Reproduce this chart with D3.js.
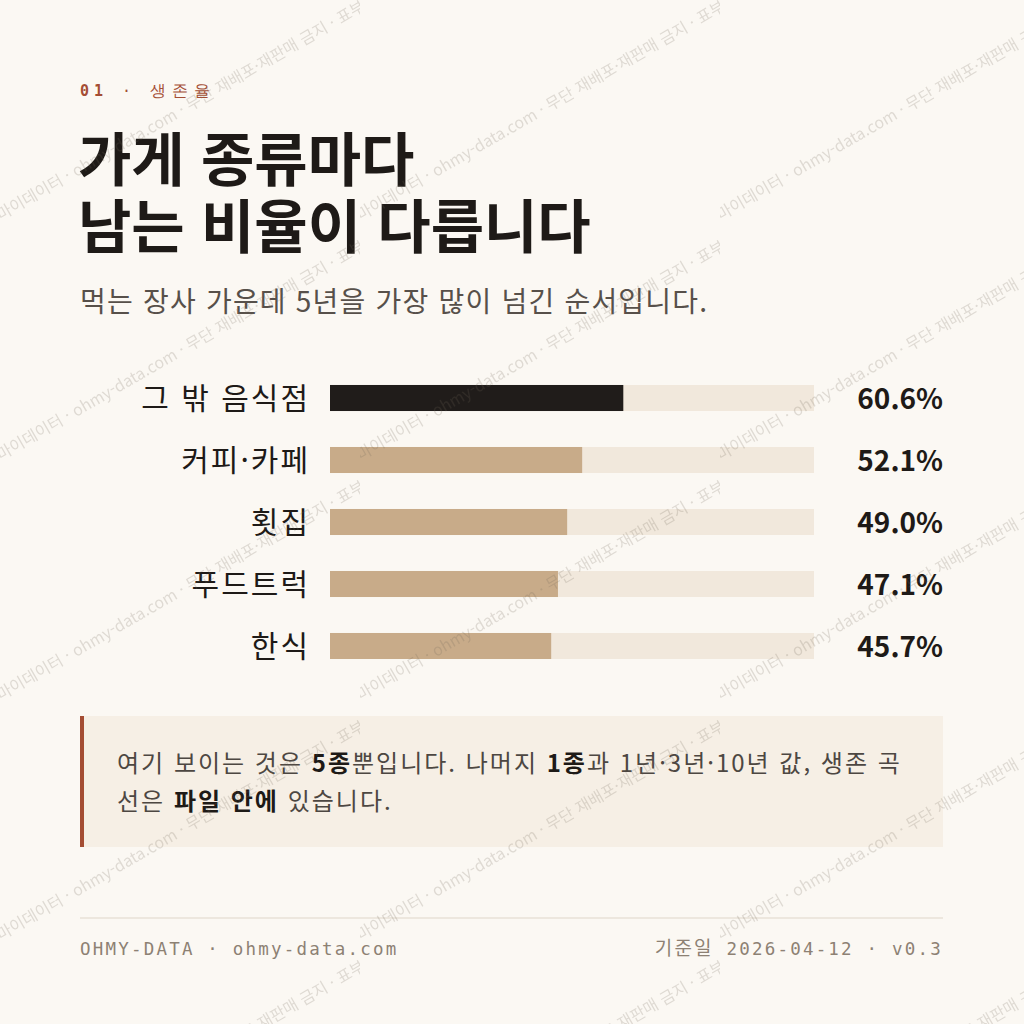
<!DOCTYPE html>
<html lang="ko">
<head>
<meta charset="utf-8">
<script src="https://cdn.jsdelivr.net/npm/d3@7"></script>
<style>
  body { margin: 0; background: #fbf8f3; }
  svg { display: block; }
</style>
</head>
<body>
<script>
const categories = ["그 밖 음식점", "커피·카페", "횟집", "푸드트럭", "한식"];
const survival5y = [60.6, 52.1, 49.0, 47.1, 45.7];
const highlight = "그 밖 음식점";

const kicker = ["01", " · ", "생존율"];
const titleLines = ["가게 종류마다", "남는 비율이 다릅니다"];
const subtitle = "먹는 장사 가운데 5년을 가장 많이 넘긴 순서입니다.";
const noteLines = [
  [["여기 보이는 것은 ", false], ["5종", true], ["뿐입니다. 나머지 ", false], ["1종", true], ["과 1년·3년·10년 값, 생존 곡", false]],
  [["선은 ", false], ["파일 안에", true], [" 있습니다.", false]]
];
const footerLeft = "OHMY-DATA · ohmy-data.com";
const footerRight = ["기준일", " 2026-04-12 · v0.3"];
const watermark = "오마이데이터 · ohmy-data.com · 무단 재배포·재판매 금지 · 표부";

const W = 1024, H = 1024;
const sans = "'Noto Sans CJK KR', 'Noto Sans', sans-serif";
const mono = "'DejaVu Sans Mono', 'Liberation Mono', monospace";

const svg = d3.select("body").append("svg")
  .attr("width", W)
  .attr("height", H);

svg.append("rect").attr("width", W).attr("height", H).attr("fill", "#fbf8f3");

// header
const k = svg.append("text")
  .attr("x", 80).attr("y", 96)
  .attr("font-family", mono)
  .attr("font-size", 15)
  .attr("letter-spacing", 5)
  .attr("fill", "#a44d33");
k.append("tspan").attr("font-weight", 700).text(kicker[0]);
k.append("tspan").text(kicker[1]);
k.append("tspan").attr("font-size", 16).attr("letter-spacing", 6).text(kicker[2]);

svg.selectAll("text.title")
  .data(titleLines)
  .join("text")
  .attr("class", "title")
  .attr("x", 78)
  .attr("y", (d, i) => 181 + i * 67)
  .attr("font-family", sans)
  .attr("font-weight", 700)
  .attr("font-size", 58)
  .attr("fill", "#1e1a17")
  .text(d => d);

svg.append("text")
  .attr("x", 80).attr("y", 312)
  .attr("font-family", sans)
  .attr("font-size", 28)
  .attr("letter-spacing", 1.2)
  .attr("fill", "#57504a")
  .text(subtitle);

// bars
const x = d3.scaleLinear().domain([0, 100]).range([330, 814]);
const y = d3.scaleBand()
  .domain(categories)
  .range([367, 677])
  .paddingInner(0.58)
  .paddingOuter(0.29);

const rows = svg.append("g").selectAll("g")
  .data(categories.map((c, i) => ({ cat: c, v: survival5y[i] })))
  .join("g");

rows.append("rect")
  .attr("x", x(0))
  .attr("y", d => y(d.cat))
  .attr("width", x(100) - x(0))
  .attr("height", y.bandwidth())
  .attr("fill", "#f1e8dc");

rows.append("rect")
  .attr("x", x(0))
  .attr("y", d => y(d.cat))
  .attr("width", d => x(d.v) - x(0))
  .attr("height", y.bandwidth())
  .attr("fill", d => d.cat === highlight ? "#201c1a" : "#c8ab89");

rows.append("text")
  .attr("x", 310)
  .attr("y", d => y(d.cat) + y.bandwidth() / 2)
  .attr("dy", "0.38em")
  .attr("text-anchor", "end")
  .attr("font-family", sans)
  .attr("font-size", 30)
  .attr("letter-spacing", 2)
  .attr("fill", "#1e1a17")
  .text(d => d.cat);

rows.append("text")
  .attr("x", 943)
  .attr("y", d => y(d.cat) + y.bandwidth() / 2)
  .attr("dy", "0.38em")
  .attr("text-anchor", "end")
  .attr("font-family", sans)
  .attr("font-weight", 700)
  .attr("font-size", 28)
  .attr("fill", "#1e1a17")
  .text(d => d.v.toFixed(1) + "%");

// note box
svg.append("rect")
  .attr("x", 80).attr("y", 716)
  .attr("width", 863).attr("height", 131)
  .attr("fill", "#f6efe5");
svg.append("rect")
  .attr("x", 80).attr("y", 716)
  .attr("width", 4).attr("height", 131)
  .attr("fill", "#a44d33");

noteLines.forEach((line, i) => {
  const t = svg.append("text")
    .attr("x", 117)
    .attr("y", 772 + i * 38)
    .attr("font-family", sans)
    .attr("font-size", 24)
    .attr("letter-spacing", 2)
    .attr("fill", "#4d4742");
  line.forEach(([s, b]) => {
    t.append("tspan")
      .attr("font-weight", b ? 700 : 400)
      .attr("fill", b ? "#1e1a17" : null)
      .text(s);
  });
});

// footer
svg.append("line")
  .attr("x1", 80).attr("x2", 943)
  .attr("y1", 918).attr("y2", 918)
  .attr("stroke", "#e9e2d7")
  .attr("stroke-width", 1.5);

svg.append("text")
  .attr("x", 80).attr("y", 955)
  .attr("font-family", mono)
  .attr("font-size", 17.5)
  .attr("letter-spacing", 2.2)
  .attr("fill", "#8d8173")
  .text(footerLeft);

const fr = svg.append("text")
  .attr("x", 943).attr("y", 955)
  .attr("text-anchor", "end")
  .attr("font-family", mono)
  .attr("font-size", 17.5)
  .attr("letter-spacing", 2.2)
  .attr("fill", "#8d8173");
fr.append("tspan").attr("font-family", sans).attr("font-size", 19).text(footerRight[0]);
fr.append("tspan").text(footerRight[1]);

// watermark tiles
const pat = svg.append("defs").append("pattern")
  .attr("id", "wm")
  .attr("patternUnits", "userSpaceOnUse")
  .attr("width", 360)
  .attr("height", 240)
  .attr("y", -20);
pat.append("text")
  .attr("transform", "translate(-12,248) rotate(-30)")
  .attr("font-family", sans)
  .attr("font-size", 16)
  .attr("fill", "#6e6253")
  .attr("fill-opacity", 0.2)
  .text(watermark);

svg.append("rect")
  .attr("width", W).attr("height", H)
  .attr("fill", "url(#wm)")
  .style("pointer-events", "none");
</script>
</body>
</html>
